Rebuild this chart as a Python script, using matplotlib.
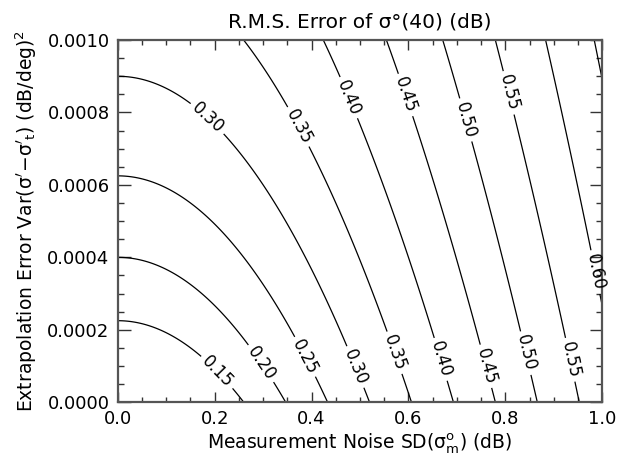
import numpy as np
import matplotlib.pyplot as plt
from matplotlib.ticker import MultipleLocator, AutoMinorLocator, FormatStrFormatter

# contour levels of the RMS error (dB)
levels = [0.15, 0.20, 0.25, 0.30, 0.35, 0.40, 0.45, 0.50, 0.55, 0.60, 0.65]

# error model: rms^2 = a*noise^2 + b*extrap_var
# (0.15 hits y=0.000225 at x=0, 0.60 reaches x~1.04 at y=0)
noise_coef = 1.0 / 3.0
extrap_coef = 100.0

noise_sd = np.linspace(0.0, 1.0, 301)
extrap_var = np.linspace(0.0, 0.001, 301)

# where the labels sit on the curves
label_pos_low = [(0.205, 0.000083), (0.297, 0.000108), (0.386, 0.000125),
                 (0.490, 0.000097), (0.568, 0.000135), (0.661, 0.000116),
                 (0.754, 0.000097), (0.841, 0.000135), (0.930, 0.000116),
                 (0.975, 0.000356)]
label_pos_high = [(0.186, 0.000785), (0.372, 0.000760), (0.475, 0.000840),
                  (0.593, 0.000848), (0.717, 0.000779), (0.806, 0.000854)]

X, Y = np.meshgrid(noise_sd, extrap_var)
rms = np.sqrt(noise_coef * X**2 + extrap_coef * Y)

plt.rcParams['font.family'] = ['DejaVu Sans']
plt.rcParams['mathtext.fontset'] = 'dejavusans'

fig = plt.figure(figsize=[6.17, 4.66], dpi=100)
ax = fig.add_axes([0.191, 0.137, 0.785, 0.777])

cs = ax.contour(X, Y, rms, levels=levels, colors='black', linewidths=0.9)
labels = ax.clabel(cs, inline=True, fontsize=12, fmt='%.2f',
                   manual=label_pos_low + label_pos_high, inline_spacing=4)
for t in labels:
    t.set_clip_on(False)

ax.set_xlim(0, 1.0)
ax.set_ylim(0, 0.001)
ax.xaxis.set_major_locator(MultipleLocator(0.2))
ax.xaxis.set_minor_locator(AutoMinorLocator(4))
ax.yaxis.set_major_locator(MultipleLocator(0.0002))
ax.yaxis.set_minor_locator(AutoMinorLocator(4))
ax.xaxis.set_major_formatter(FormatStrFormatter('%.1f'))
ax.yaxis.set_major_formatter(FormatStrFormatter('%.4f'))

ax.tick_params(axis='both', which='both', direction='in', top=True, right=True,
               labelsize=13, color='#333333', pad=6)
ax.tick_params(axis='y', which='major', length=9, width=1)
ax.tick_params(axis='y', which='minor', length=4.5, width=1)
ax.tick_params(axis='x', which='major', length=7, width=1)
ax.tick_params(axis='x', which='minor', length=3.5, width=1)
for sp in ax.spines.values():
    sp.set_color('#555555')
    sp.set_linewidth(1.6)

ax.set_title('R.M.S. Error of σ°(40) (dB)', fontsize=14.5, pad=9)
ax.set_xlabel(r'Measurement Noise SD($\mathrm{σ}^{\mathrm{o}}_{\mathrm{m}}$) (dB)', fontsize=13.5, labelpad=2)
ax.set_ylabel(r"Extrapolation Error Var($\mathrm{σ}'\!-\!\mathrm{σ}'_{\mathrm{t}}$) (dB/deg)$^2$",
              fontsize=13.5, labelpad=6)

fig.savefig('out.png', dpi=100)
